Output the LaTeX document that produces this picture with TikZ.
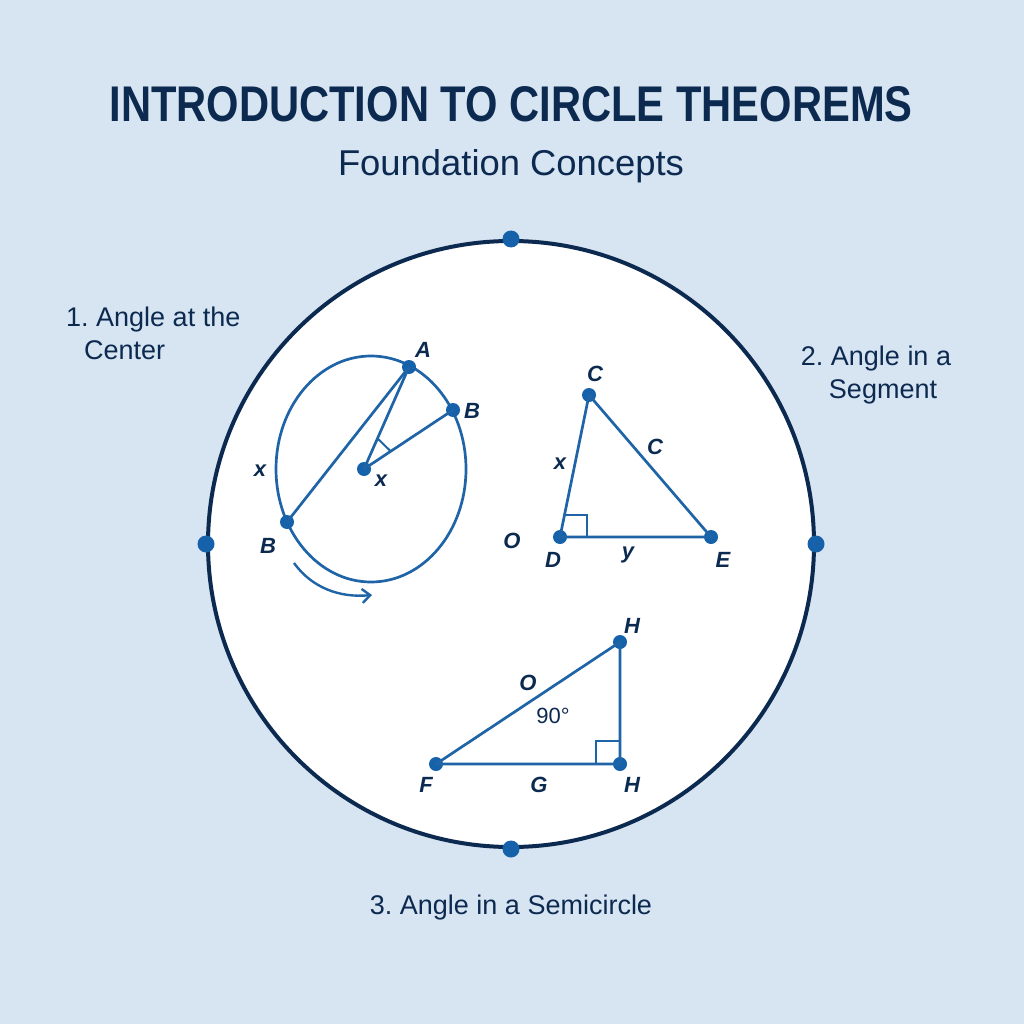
\documentclass[tikz,border=0pt]{standalone}
\usepackage{fontspec}
\usepackage{graphicx}
\setmainfont{Liberation Sans}
\usetikzlibrary{arrows.meta,calc}
\frenchspacing
\definecolor{bgblue}{HTML}{D7E4F2}
\definecolor{navy}{HTML}{0C2A50}
\definecolor{lineblue}{HTML}{1E64A6}
\definecolor{dotblue}{HTML}{1562AA}
\tikzset{
  txt/.style={text=navy, inner sep=0pt, font=\fontsize{27}{32}\selectfont},
  lbl/.style={text=navy, inner sep=0pt, font=\fontsize{22}{24}\selectfont\bfseries\itshape},
  geo/.style={draw=lineblue, line width=2.7pt, line join=round},
  pt/.style={circle, fill=dotblue, minimum size=14pt, inner sep=0pt},
  bigpt/.style={circle, fill=dotblue, minimum size=17pt, inner sep=0pt},
}
\begin{document}
\begin{tikzpicture}[x=1pt,y=-1pt]
\fill[bgblue] (0,0) rectangle (1024,1024);
\useasboundingbox (0,0) rectangle (1024,1024);
% titles
\node[text=navy, inner sep=0pt, anchor=south] (title) at (511,122) {\resizebox{803pt}{35pt}{\bfseries INTRODUCTION TO CIRCLE THEOREMS}};
\node[text=navy, inner sep=0pt, anchor=base] (sub) at (511,176) {\resizebox{346pt}{26pt}{Foundation Concepts}};
% big circle
\node[circle, draw=navy, line width=4pt, fill=white, minimum size=606pt, inner sep=0pt] (big) at (511,544) {};
\node[bigpt] (ptop) at (big.north) {};
\node[bigpt] (pleft) at (big.west) {};
\node[bigpt] (pright) at (big.east) {};
\node[bigpt] (pbot) at (big.south) {};
% side labels
\node[txt, anchor=base west] (l1a) at (66,326) {1. Angle at the};
\node[txt, anchor=base west] (l1b) at (84,359) {Center};
\node[txt, anchor=base] (l2a) at (876,365) {2. Angle in a};
\node[txt, anchor=base] (l2b) at (883,398) {Segment};
\node[txt, anchor=base] (l3) at (511,914) {3. Angle in a Semicircle};
% diagram 1
\draw[geo] (371,469) ellipse [x radius=95, y radius=113];
\node[pt] (A) at (409,367) {};
\node[pt] (B1) at (453,410) {};
\node[pt] (O1) at (364,469) {};
\node[pt] (B2) at (287,522) {};
\draw[geo] (A.center) -- (B2.center);
\draw[geo] (A.center) -- (O1.center) -- (B1.center);
\coordinate (m1) at ($(O1.center)!0.30!(A.center)$);
\coordinate (m2) at ($(O1.center)!0.30!(B1.center)$);
\draw[draw=lineblue, line width=2pt] (m1) -- (m2);
\node[lbl] (tA) at (423,350) {A};
\node[lbl] (tB1) at (472,411) {B};
\node[lbl] (tx1) at (381,481) {x};
\node[lbl] (tx2) at (260,471) {x};
\node[lbl] (tB2) at (268,546) {B};
\coordinate (arS) at (294,563);
\coordinate (arE) at (372,595);
\draw[draw=lineblue, line width=2.4pt, -{Straight Barb[length=8pt,width=14pt]}] (arS) .. controls (312,588) and (340,598) .. (arE);
% diagram 2
\node[pt] (C) at (589,395) {};
\node[pt] (D) at (560,537) {};
\node[pt] (E) at (711,537) {};
\draw[geo] (C.center) -- (D.center) -- (E.center) -- cycle;
\draw[draw=lineblue, line width=2pt] (587,537) -- (587,515) -- (565,515);
\node[lbl] (tC) at (595,374) {C};
\node[lbl] (tc) at (655,447) {C};
\node[lbl] (tx3) at (560,464) {x};
\node[lbl] (tO) at (512,541) {O};
\node[lbl] (tD) at (553,560) {D};
\node[lbl] (ty) at (628,555) {y};
\node[lbl] (tE) at (723,560) {E};
% diagram 3
\node[pt] (H1) at (620,642) {};
\node[pt] (F) at (436,764) {};
\node[pt] (H2) at (620,764) {};
\draw[geo] (F.center) -- (H1.center) -- (H2.center) -- cycle;
\draw[draw=lineblue, line width=2pt] (596,764) -- (596,741) -- (620,741);
\node[lbl] (tH1) at (632,626) {H};
\node[lbl] (tO2) at (528,683) {O};
\node[text=navy, inner sep=0pt, font=\fontsize{22}{24}\selectfont] (t90) at (553,716) {90°};
\node[lbl] (tF) at (426,785) {F};
\node[lbl] (tG) at (539,785) {G};
\node[lbl] (tH2) at (632,785) {H};
\end{tikzpicture}
\end{document}
